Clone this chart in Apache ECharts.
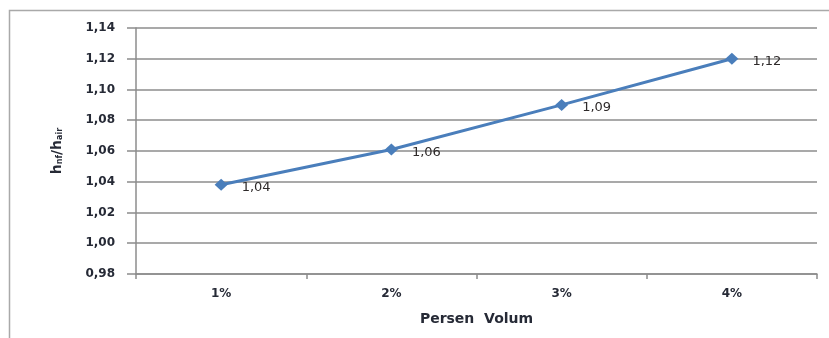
<!DOCTYPE html>
<html>
<head>
<meta charset="utf-8">
<script src="https://cdn.jsdelivr.net/npm/echarts@6/dist/echarts.min.js"></script>
<style>
  html, body { margin: 0; padding: 0; background: #fff; }
  #chart { width: 829px; height: 338px; }
</style>
</head>
<body>
<div id="chart"></div>
<script>
// Heat transfer ratio versus nanoparticle volume fraction
const categories = ['1%', '2%', '3%', '4%'];
const ratioValues = [1.038, 1.061, 1.090, 1.120];
const yTicks = { min: 0.98, max: 1.14, step: 0.02 };

const fmt = v => v.toFixed(2).replace('.', ',');

const chart = echarts.init(document.getElementById('chart'), null, { renderer: 'canvas' });

chart.setOption({
  animation: false,
  backgroundColor: '#fff',
  graphic: [{
    type: 'rect',
    silent: true,
    shape: { x: 9.5, y: 10.5, width: 900, height: 400 },
    style: { fill: 'none', stroke: '#a9a9a9', lineWidth: 1.5 }
  }],
  grid: { left: 136, top: 28, right: 12, bottom: 64 },
  xAxis: {
    type: 'category',
    data: categories,
    boundaryGap: true,
    name: 'Persen  Volum',
    nameLocation: 'middle',
    nameGap: 38,
    nameTextStyle: { fontFamily: 'DejaVu Sans', fontWeight: 'bold', fontSize: 14, color: '#262a36' },
    axisLine: { lineStyle: { color: '#8c8c8c', width: 1.5 } },
    axisTick: { show: true, length: 5, lineStyle: { color: '#8c8c8c', width: 1.5 } },
    axisLabel: { margin: 14, fontFamily: 'DejaVu Sans', fontWeight: 'bold', fontSize: 12, color: '#262a36' },
    splitLine: { show: false }
  },
  yAxis: {
    type: 'value',
    min: yTicks.min,
    max: yTicks.max,
    interval: yTicks.step,
    name: '{b|h}{s|nf}{b|/h}{s|air}',
    nameLocation: 'middle',
    nameGap: 72,
    nameRotate: 90,
    nameTextStyle: {
      rich: {
        b: { fontFamily: 'DejaVu Sans', fontWeight: 'bold', fontSize: 14, color: '#262a36' },
        s: { fontFamily: 'DejaVu Sans', fontWeight: 'bold', fontSize: 8, color: '#262a36', verticalAlign: 'bottom', padding: [6, 0, 0, 0] }
      }
    },
    axisLine: { show: true, lineStyle: { color: '#8c8c8c', width: 1.5 } },
    axisTick: { show: true, inside: false, length: 9, lineStyle: { color: '#8c8c8c', width: 1.5 } },
    axisLabel: {
      margin: 21,
      formatter: v => fmt(v),
      fontFamily: 'DejaVu Sans', fontWeight: 'bold', fontSize: 12, color: '#262a36'
    },
    splitLine: { show: true, lineStyle: { color: '#8c8c8c', width: 1.5 } }
  },
  series: [{
    type: 'line',
    data: ratioValues,
    symbol: 'diamond',
    symbolSize: [13, 12],
    lineStyle: { color: '#4a7ebb', width: 3 },
    itemStyle: { color: '#4a7ebb' },
    label: {
      show: true,
      position: 'right',
      distance: 14,
      offset: [0, 3],
      formatter: p => fmt(p.value),
      fontFamily: 'DejaVu Sans',
      fontSize: 13,
      color: '#2e2a2a'
    }
  }]
});
</script>
</body>
</html>
